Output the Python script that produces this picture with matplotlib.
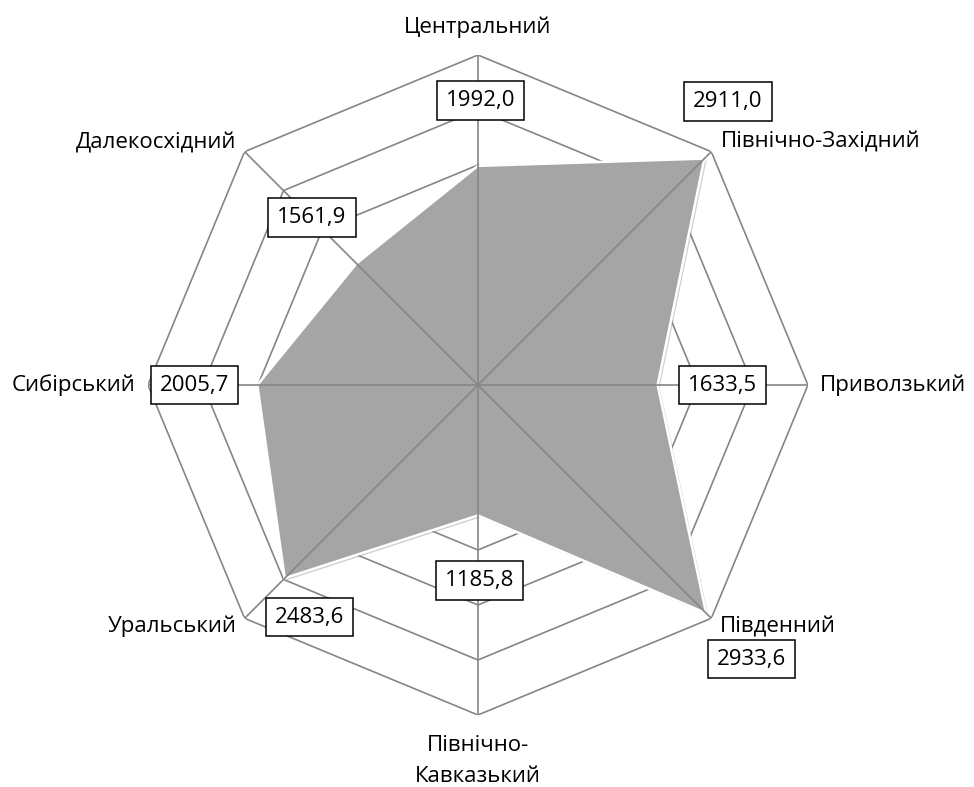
import numpy as np
import matplotlib.pyplot as plt
import matplotlib.patheffects as pe

plt.rcParams['font.family'] = ['Open Sans', 'DejaVu Sans']

# data
regions = ['Центральний', 'Північно-Західний', 'Приволзький', 'Південний',
           'Північно-\nКавказький', 'Уральський', 'Сибірський', 'Далекосхідний']
values = [1992.0, 2911.0, 1633.5, 2933.6, 1185.8, 2483.6, 2005.7, 1561.9]
rings = [500, 1000, 1500, 2000, 2500, 3000]

# label placement (offsets in points from the data point)
label_off = [(2, 47), (17, 41), (47, 0), (33, -33), (1, -47), (18, -28), (-45, 0), (-32, 33)]
cat_pos = [(3255, 'center'), (3118, 'left'), (3109, 'left'), (3110, 'left'),
           (3418, 'center'), (3105, 'right'), (3118, 'right'), (3105, 'right')]

n = len(regions)
theta = np.arange(n) * 2 * np.pi / n
theta_c = np.append(theta, theta[0])
vals_c = np.append(values, values[0])

fig = plt.figure(figsize=(9.74, 7.87), dpi=100)
ax = fig.add_axes([0.1519, 0.0915, 0.6776, 0.8386], projection='polar')
ax.set_theta_offset(np.pi / 2)
ax.set_theta_direction(-1)
ax.set_ylim(0, 3000)
ax.axis('off')

grid_c = '#868686'
for r in rings:
    ax.plot(theta_c, [r] * (n + 1), color=grid_c, lw=1.2, zorder=1)

poly = ax.fill(theta_c, vals_c, facecolor='#a5a5a5', edgecolor='white', lw=1.8, zorder=2)[0]
poly.set_path_effects([pe.SimplePatchShadow(offset=(1.5, -1.5), shadow_rgbFace='#777777', alpha=0.35),
                       pe.Normal()])

for t in theta:
    ax.plot([t, t], [0, 3000], color=grid_c, lw=1.2, zorder=3)

for t, v, off in zip(theta, values, label_off):
    ax.annotate(f'{v:.1f}'.replace('.', ','), xy=(t, v), xytext=off,
                textcoords='offset points', ha='center', va='center',
                fontsize=16, zorder=5,
                bbox=dict(boxstyle='square,pad=0.4', fc='white', ec='black', lw=1.1))

for t, name, (r, ha) in zip(theta, regions, cat_pos):
    ax.text(t, r, name, ha=ha, va='center', fontsize=16, linespacing=1.6, clip_on=False)

plt.savefig('out.png', dpi=100)
